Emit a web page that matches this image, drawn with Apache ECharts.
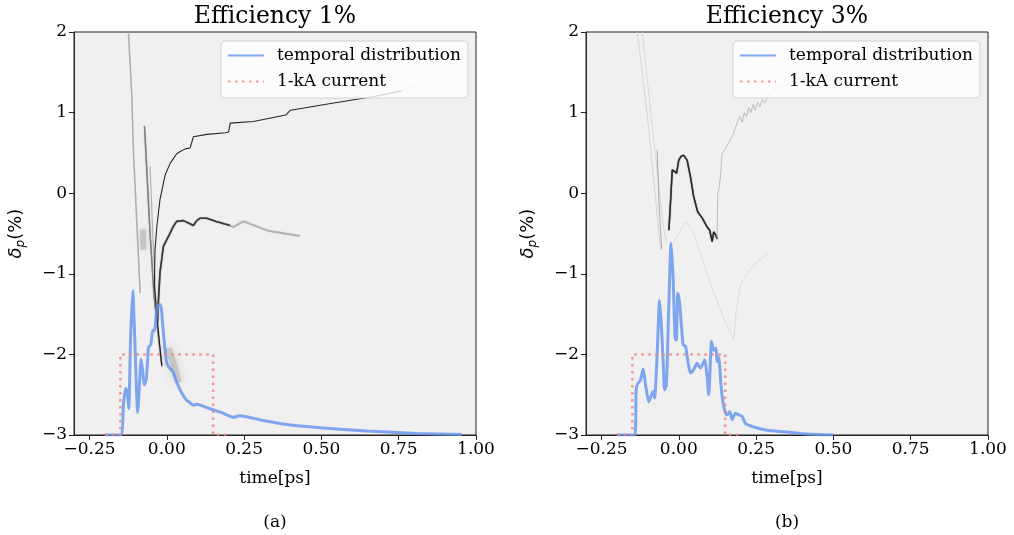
<!DOCTYPE html>
<html>
<head>
<meta charset="utf-8">
<script src="https://cdn.jsdelivr.net/npm/echarts@6/dist/echarts.min.js"></script>
<style>
html,body{margin:0;padding:0;background:#fff;}
#chart{width:1014px;height:535px;}
</style>
</head>
<body>
<div id="chart"></div>
<script>
// ---------- data ----------
const xTickValues = [-0.25, 0, 0.25, 0.5, 0.75, 1.0];
const panelTitles = ['Efficiency 1%', 'Efficiency 3%'];
const panelCaptions = ['(a)', '(b)'];
const legendNames = ['temporal distribution', '1-kA current'];

// temporal distribution, efficiency 1%
const timeA = [-0.20,-0.149,-0.140,-0.133,-0.128,-0.123,-0.117,-0.110,-0.104,-0.094,-0.088,-0.083,-0.078,-0.073,-0.066,-0.059,-0.052,-0.045,-0.040,-0.035,-0.029,-0.022,-0.017,-0.013,-0.002,0.005,0.019,0.030,0.043,0.055,0.065,0.075,0.086,0.097,0.108,0.13,0.16,0.183,0.200,0.215,0.237,0.30,0.388,0.496,0.647,0.808,0.954];
const blueA = [-3,-3,-2.62,-2.42,-2.45,-2.67,-1.80,-1.21,-1.75,-2.72,-2.35,-2.06,-2.20,-2.38,-2.30,-1.91,-1.88,-1.70,-1.71,-1.55,-1.39,-1.38,-1.45,-1.64,-2.07,-2.15,-2.21,-2.32,-2.44,-2.52,-2.57,-2.60,-2.63,-2.62,-2.63,-2.66,-2.70,-2.73,-2.76,-2.78,-2.76,-2.81,-2.87,-2.91,-2.95,-2.98,-2.995];

// temporal distribution, efficiency 3%
const timeB = [-0.20,-0.142,-0.138,-0.134,-0.124,-0.115,-0.108,-0.097,-0.088,-0.083,-0.078,-0.070,-0.062,-0.056,-0.050,-0.046,-0.040,-0.033,-0.025,-0.018,-0.012,-0.008,-0.003,0.003,0.014,0.022,0.030,0.038,0.048,0.059,0.070,0.084,0.091,0.097,0.106,0.113,0.120,0.124,0.129,0.137,0.142,0.148,0.156,0.165,0.173,0.183,0.194,0.205,0.216,0.242,0.286,0.34,0.393,0.45,0.50];
const blueB = [-3,-3,-2.45,-2.37,-2.32,-2.18,-2.36,-2.59,-2.50,-2.46,-2.54,-2.0,-1.33,-1.66,-2.13,-2.44,-2.38,-1.5,-0.62,-1.08,-1.80,-1.82,-1.24,-1.37,-1.88,-1.90,-2.10,-2.23,-2.19,-2.11,-2.17,-2.07,-2.25,-2.50,-1.84,-1.95,-1.92,-2.09,-2.03,-2.40,-2.57,-2.69,-2.75,-2.71,-2.81,-2.73,-2.75,-2.77,-2.86,-2.90,-2.94,-2.96,-2.98,-2.995,-3.0];

// 1-kA current step
const currentT = [-0.2,-0.15,-0.15,0.15,0.15,0.2];
const currentY = [-3,-3,-2,-2,-3,-3];

// phase-space tracks, efficiency 1%  [time, delta]
const trackA_upper = [[-0.016,-2.15],[-0.030,-1.6],[-0.040,-1.15],[-0.038,-0.70],[-0.032,-0.41],[-0.022,-0.08],[-0.005,0.23],[0.011,0.37],[0.032,0.49],[0.045,0.52],[0.060,0.55],[0.075,0.56],[0.080,0.62],[0.086,0.70],[0.13,0.73],[0.19,0.75],[0.200,0.76],[0.205,0.87],[0.28,0.89],[0.385,0.97],[0.40,1.03],[0.54,1.12],[0.67,1.20],[0.76,1.27]];
const trackA_upperTail = [[0.76,1.27],[0.82,1.36],[0.86,1.45],[0.90,1.56]];
const trackA_lower = [[-0.030,-1.6],[-0.027,-1.33],[-0.022,-0.99],[-0.011,-0.66],[0.005,-0.54],[0.020,-0.42],[0.032,-0.35],[0.054,-0.34],[0.075,-0.38],[0.086,-0.40],[0.097,-0.34],[0.108,-0.31],[0.129,-0.31],[0.16,-0.35],[0.205,-0.40]];
const trackA_lowerTail = [[0.205,-0.40],[0.215,-0.42],[0.248,-0.35],[0.29,-0.41],[0.323,-0.46],[0.38,-0.50],[0.431,-0.53]];
const trackA_steep1 = [[-0.124,2.0],[-0.113,1.2],[-0.108,0.54],[-0.097,-0.35],[-0.086,-1.24]];
const trackA_steep2 = [[-0.072,0.83],[-0.068,0.54],[-0.054,-0.50],[-0.041,-1.28],[-0.028,-1.75],[-0.016,-2.13]];
const trackA_steep3 = [[-0.054,0.33],[-0.043,-0.70],[-0.035,-1.33],[-0.025,-1.8]];
const trackA_blob1 = [[-0.077,-0.45],[-0.076,-0.70]];
const trackA_blob2 = [[0.005,-1.92],[0.020,-2.10],[0.038,-2.35]];

// phase-space tracks, efficiency 3%
const trackB_main = [[-0.032,-0.46],[-0.027,-0.13],[-0.021,0.29],[-0.014,0.27],[-0.007,0.25],[0.0,0.41],[0.008,0.46],[0.016,0.47],[0.027,0.41],[0.038,0.20],[0.048,-0.04],[0.061,-0.23],[0.076,-0.31],[0.092,-0.42],[0.100,-0.46],[0.108,-0.60],[0.113,-0.48],[0.120,-0.52],[0.124,-0.57]];
const trackB_rise = [[0.124,-0.57],[0.126,0.0],[0.129,0.04],[0.135,0.20],[0.140,0.49],[0.150,0.55],[0.160,0.62],[0.167,0.66],[0.175,0.72],[0.182,0.80],[0.189,0.87],[0.197,0.95],[0.205,0.88],[0.212,1.00],[0.219,0.95],[0.226,1.06],[0.233,1.00],[0.240,1.10],[0.247,1.03],[0.255,1.13],[0.262,1.07],[0.270,1.16],[0.278,1.12],[0.290,1.21],[0.307,1.28],[0.330,1.31],[0.361,1.36]];
const trackB_steep1 = [[-0.134,2.0],[-0.100,0.9],[-0.065,-0.46],[-0.059,-0.70]];
const trackB_steep2 = [[-0.118,2.0],[-0.085,0.8],[-0.050,-0.40],[-0.040,-0.62]];
const trackB_steep3 = [[-0.070,0.54],[-0.064,-0.10],[-0.059,-0.46],[-0.055,-0.70]];
const trackB_faint = [[-0.016,-0.62],[0.0,-0.50],[0.022,-0.35],[0.035,-0.42],[0.048,-0.50],[0.065,-0.70],[0.10,-1.10],[0.14,-1.50],[0.178,-1.82],[0.185,-1.50],[0.20,-1.12],[0.24,-0.90],[0.286,-0.75]];

// ---------- chart ----------
const chart = echarts.init(document.getElementById('chart'), null, {renderer: 'canvas'});
const SERIF = 'DejaVu Serif';
const gridLefts = [74, 586];
const gridW = 402, gridTop = 32, gridH = 403;

function zip(t, y) { return t.map((v, i) => [v, y[i]]); }
function fmtX(v) { return (v < 0 ? '\u2212' : '') + Math.abs(v).toFixed(2); }
function fmtY(v) { return (v < 0 ? '\u2212' : '') + Math.abs(v); }

const grids = gridLefts.map(l => ({
  left: l, top: gridTop, width: gridW, height: gridH,
  show: true, backgroundColor: '#f0f0f0', borderColor: '#222', borderWidth: 1
}));

const xAxes = gridLefts.map((l, i) => ({
  type: 'value', gridIndex: i, min: -0.3, max: 1.0,
  axisLine: {show: true, onZero: false, lineStyle: {color: '#222', width: 1}},
  axisTick: {show: true, length: 5, lineStyle: {color: '#222'}, customValues: xTickValues},
  axisLabel: {show: true, customValues: xTickValues, formatter: fmtX, fontFamily: SERIF, fontSize: 17, color: '#000', margin: 6},
  splitLine: {show: false},
  name: 'time[ps]', nameLocation: 'middle', nameGap: 35,
  nameTextStyle: {fontFamily: SERIF, fontSize: 17, color: '#000'}
}));

const yAxes = gridLefts.map((l, i) => ({
  type: 'value', gridIndex: i, min: -3, max: 2, interval: 1,
  axisLine: {show: true, onZero: false, lineStyle: {color: '#222', width: 1}},
  axisTick: {show: true, length: 5, lineStyle: {color: '#222'}},
  axisLabel: {formatter: fmtY, fontFamily: SERIF, fontSize: 17, color: '#000', margin: 7},
  splitLine: {show: false},
  name: '{d|\u03b4}{s|p}{n|(%)}', nameLocation: 'middle', nameGap: 47,
  nameTextStyle: {
    color: '#000',
    rich: {
      d: {fontFamily: 'DejaVu Sans', fontStyle: 'italic', fontSize: 18, color: '#000'},
      s: {fontFamily: 'DejaVu Sans', fontStyle: 'italic', fontSize: 12, color: '#000', padding: [10, 0, 0, 0]},
      n: {fontFamily: 'DejaVu Sans', fontSize: 18, color: '#000'}
    }
  }
}));

function track(data, gi, color, width, opacity, blur) {
  return {
    type: 'line', xAxisIndex: gi, yAxisIndex: gi, data: data,
    showSymbol: false, symbol: 'none', silent: true, z: 1, clip: true,
    lineStyle: Object.assign({color: color, width: width, opacity: opacity},
      blur ? {shadowBlur: blur, shadowColor: color} : {})
  };
}

const series = [
  // left panel tracks
  track(trackA_steep1, 0, '#a8a8a8', 1.6, 0.9, 0),
  track(trackA_steep2, 0, '#777', 1.4, 0.8, 1),
  track(trackA_steep3, 0, '#999', 1.2, 0.7, 0),
  track(trackA_blob1, 0, '#999', 6, 0.35, 6),
  track(trackA_blob2, 0, '#888', 7, 0.3, 8),
  track(trackA_upper, 0, '#111', 1.1, 0.9, 0),
  track(trackA_upperTail, 0, '#bbb', 1, 0.7, 0),
  track(trackA_lower, 0, '#333', 1.6, 0.85, 1),
  track(trackA_lowerTail, 0, '#aaa', 1.8, 0.7, 1),
  // right panel tracks
  track(trackB_steep1, 1, '#d0d0d0', 1, 0.9, 0),
  track(trackB_steep2, 1, '#d6d6d6', 1, 0.9, 0),
  track(trackB_steep3, 1, '#999', 1, 0.8, 0),
  track(trackB_faint, 1, '#dadada', 1, 0.9, 0),
  track(trackB_main, 1, '#222', 1.5, 0.85, 1),
  track(trackB_rise, 1, '#b0b0b0', 1, 0.8, 0)
];

[[timeA, blueA], [timeB, blueB]].forEach((p, gi) => {
  series.push({
    name: legendNames[0], type: 'line', xAxisIndex: gi, yAxisIndex: gi,
    data: zip(p[0], p[1]), showSymbol: false, symbol: 'none', z: 3, clip: true,
    smooth: 0.2,
    lineStyle: {color: 'rgba(100,149,237,0.82)', width: 3},
    itemStyle: {color: 'rgba(100,149,237,0.82)'}
  });
  series.push({
    name: legendNames[1], type: 'line', xAxisIndex: gi, yAxisIndex: gi,
    data: zip(currentT, currentY), showSymbol: false, symbol: 'none', z: 4, clip: true,
    lineStyle: {color: 'rgba(240,128,128,0.8)', width: 2.5, type: [2.5, 4.5]},
    itemStyle: {color: 'rgba(240,128,128,0.8)'}
  });
});

const legends = gridLefts.map((l, i) => ({
  orient: 'vertical', left: l + 147, top: 41,
  data: legendNames.map(n => ({name: n})),
  itemWidth: 36, itemHeight: 14, itemGap: 9,
  padding: [6, 7, 8, 6],
  backgroundColor: 'rgba(255,255,255,0.8)', borderColor: '#d4d4d4', borderWidth: 1, borderRadius: 4,
  itemStyle: {color: 'rgba(0,0,0,0)', borderColor: 'rgba(0,0,0,0)', borderWidth: 0, opacity: 0},
  textStyle: {fontFamily: SERIF, fontSize: 17, color: '#000', padding: [0, 0, 0, 8]},
  selectedMode: false
}));

const graphics = [];
gridLefts.forEach((l, i) => {
  const cx = l + gridW / 2;
  graphics.push({type: 'text', x: cx, y: 17, style: {text: panelTitles[i], font: '23.5px "DejaVu Serif"', fill: '#000', textAlign: 'center', textVerticalAlign: 'middle'}});
  graphics.push({type: 'text', x: cx, y: 523, style: {text: panelCaptions[i], font: '17px "DejaVu Serif"', fill: '#000', textAlign: 'center', textVerticalAlign: 'middle'}});
});

chart.setOption({
  animation: false,
  backgroundColor: '#fff',
  grid: grids,
  xAxis: xAxes,
  yAxis: yAxes,
  legend: legends,
  graphic: graphics,
  series: series
});
</script>
</body>
</html>
